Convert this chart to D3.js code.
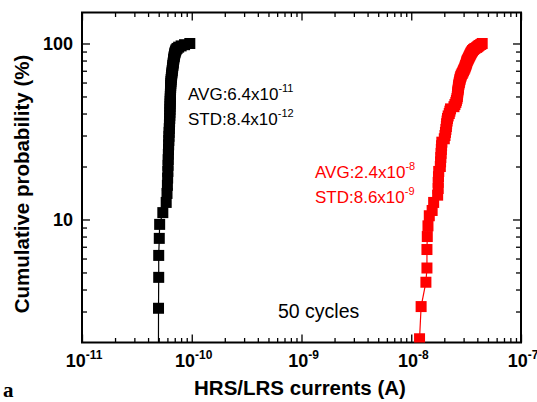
<!DOCTYPE html>
<html>
<head>
<meta charset="utf-8">
<script src="https://cdn.jsdelivr.net/npm/d3@7"></script>
<style>
  body { margin: 0; background: #fff; }
  text { font-family: "Liberation Sans", Arial, sans-serif; }
</style>
</head>
<body>
<div id="chart"></div>
<script>
// cumulative probability (%) and currents (A)
const blackProb = [1.56, 3.13, 4.69, 6.25, 7.81, 9.38, 10.94, 12.5, 14.06, 15.63, 17.19, 18.75, 20.31, 21.88, 23.44, 25,
    26.56, 28.13, 29.69, 31.25, 32.81, 34.38, 35.94, 37.5, 39.06, 40.63, 42.19, 43.75, 45.31, 46.88, 48.44, 50,
    51.56, 53.13, 54.69, 56.25, 57.81, 59.38, 60.94, 62.5, 64.06, 65.63, 67.19, 68.75, 70.31, 71.88, 73.44, 75,
    76.56, 78.13, 79.69, 81.25, 82.81, 84.38, 85.94, 87.5, 89.06, 90.63, 92.19, 93.75, 95.31, 96.88, 98.44, 100]
const blackCurrent = [4.97e-11, 4.98e-11, 5.0e-11, 5.0e-11, 5.06e-11, 5.1e-11, 5.45e-11, 5.85e-11, 5.95e-11, 6.0e-11,
    6.03e-11, 6.06e-11, 6.08e-11, 6.1e-11, 6.12e-11, 6.14e-11, 6.16e-11, 6.18e-11, 6.2e-11, 6.22e-11,
    6.24e-11, 6.26e-11, 6.28e-11, 6.3e-11, 6.31e-11, 6.32e-11, 6.33e-11, 6.34e-11, 6.35e-11, 6.36e-11,
    6.37e-11, 6.38e-11, 6.39e-11, 6.4e-11, 6.41e-11, 6.42e-11, 6.43e-11, 6.45e-11, 6.47e-11, 6.49e-11,
    6.52e-11, 6.55e-11, 6.58e-11, 6.61e-11, 6.64e-11, 6.67e-11, 6.7e-11, 6.73e-11, 6.76e-11, 6.79e-11,
    6.82e-11, 6.85e-11, 6.88e-11, 6.92e-11, 6.96e-11, 7.0e-11, 7.05e-11, 7.12e-11, 7.2e-11, 7.35e-11,
    7.6e-11, 8.0e-11, 8.6e-11, 9.6e-11]

const redProb = [2.1, 3.2, 4.4, 5.3, 6.75, 8.0, 9.2, 10.5,
    11.25, 12.5, 13.75, 15, 16.25, 17.5, 18.75, 20, 21.25, 22.5, 23.75, 25, 26.25, 27.5, 28.75, 30,
    31.25, 32.5, 33.75, 35, 36.25, 37.5, 38.75, 40, 41.25, 42.5, 43.75, 45, 46.25, 47.5, 48.75, 50,
    51.25, 52.5, 53.75, 55, 56.25, 57.5, 58.75, 60, 61.25, 62.5, 63.75, 65, 66.25, 67.5, 68.75, 70,
    71.25, 72.5, 73.75, 75, 76.25, 77.5, 78.75, 80, 81.25, 82.5, 83.75, 85, 86.25, 87.5, 88.75, 90,
    91.25, 92.5, 93.75, 95, 96.25, 97.5, 98.75, 100]
const redCurrent = [1.19e-8, 1.23e-8, 1.36e-8, 1.39e-8, 1.39e-8, 1.40e-8, 1.42e-8, 1.46e-8,
    1.55e-8, 1.6e-8, 1.74e-8, 1.76e-8, 1.76e-8, 1.77e-8, 1.78e-8, 1.84e-8,
    1.85e-8, 1.86e-8, 1.87e-8, 1.88e-8, 1.89e-8, 1.90e-8, 2.0e-8, 2.03e-8,
    2.05e-8, 2.07e-8, 2.09e-8, 2.10e-8, 2.12e-8, 2.14e-8, 2.17e-8, 2.22e-8,
    2.25e-8, 2.28e-8, 2.45e-8, 2.5e-8, 2.55e-8, 2.58e-8, 2.61e-8, 2.63e-8,
    2.64e-8, 2.65e-8, 2.66e-8, 2.68e-8, 2.69e-8, 2.70e-8, 2.72e-8, 2.74e-8,
    2.76e-8, 2.78e-8, 2.80e-8, 2.83e-8, 2.86e-8, 2.91e-8, 2.95e-8, 2.99e-8,
    3.03e-8, 3.07e-8, 3.10e-8, 3.13e-8, 3.16e-8, 3.19e-8, 3.21e-8, 3.24e-8,
    3.28e-8, 3.32e-8, 3.36e-8, 3.40e-8, 3.44e-8, 3.48e-8, 3.52e-8, 3.57e-8,
    3.62e-8, 3.70e-8, 3.80e-8, 3.95e-8, 4.05e-8, 4.15e-8, 4.30e-8, 4.43e-8]

const xMajor = [1e-11, 1e-10, 1e-9, 1e-8, 1e-7]
const xExponents = ["-11", "-10", "-9", "-8", "-7"]
const yMajor = [10, 100]
const yLabels = ["10", "100"]

const annotations = [
    {lines: [["AVG:6.4x10", "-11"], ["STD:8.4x10", "-12"]], x: 188, y: 100, color: "#000"},
    {lines: [["AVG:2.4x10", "-8"], ["STD:8.6x10", "-9"]], x: 315, y: 178, color: "#ff0000"}
]

// Create SVG
const outerWidth = 537
const outerHeight = 402
const margin = {top: 12.5, bottom: 59.5, left: 82, right: 16}
const width = outerWidth - margin.left - margin.right
const height = outerHeight - margin.top - margin.bottom

const svg = d3.select("#chart")
    .append("svg")
    .attr("width", outerWidth)
    .attr("height", outerHeight)

const x = d3.scaleLog()
    .domain([1e-11, 1e-7])
    .range([margin.left, margin.left + width])

const y = d3.scaleLog()
    .domain([2, 150])
    .range([margin.top + height, margin.top])

// minor ticks
let xMinor = []
for (const d of [-11, -10, -9, -8]) {
    for (let k = 2; k <= 9; k++) xMinor.push(k * Math.pow(10, d))
}
let yMinor = []
for (const d of [1, 10]) {
    for (let k = 2; k <= 9; k++) if (k * d > 2) yMinor.push(k * d)
}

const axes = svg.append("g")

function tickAxis(axisFn, scale, values, size, pos) {
    const g = axes.append("g")
        .attr("transform", pos)
        .call(axisFn(scale).tickValues(values).tickSizeInner(size).tickSizeOuter(0).tickFormat(""))
    g.select(".domain").remove()
    g.selectAll(".tick line").attr("stroke", "#000").attr("stroke-width", 1.3)
}

const x0 = margin.left, x1 = margin.left + width
const y0 = margin.top + height, y1 = margin.top

tickAxis(d3.axisBottom, x, xMajor, -8, `translate(0,${y0})`)
tickAxis(d3.axisBottom, x, xMinor, -4.5, `translate(0,${y0})`)
tickAxis(d3.axisTop, x, xMajor, -8, `translate(0,${y1})`)
tickAxis(d3.axisTop, x, xMinor, -4.5, `translate(0,${y1})`)
tickAxis(d3.axisLeft, y, yMajor, -8, `translate(${x0},0)`)
tickAxis(d3.axisLeft, y, yMinor, -5, `translate(${x0},0)`)
tickAxis(d3.axisRight, y, yMajor, -8, `translate(${x1},0)`)
tickAxis(d3.axisRight, y, yMinor, -5, `translate(${x1},0)`)

// frame
svg.append("rect")
    .attr("x", x0)
    .attr("y", y1)
    .attr("width", width)
    .attr("height", height)
    .attr("fill", "none")
    .attr("stroke", "#000")
    .attr("stroke-width", 2)

// tick labels
const xl = svg.append("g").selectAll("text")
    .data(xMajor)
    .enter()
    .append("text")
    .attr("x", d => x(d) + 2)
    .attr("y", y0 + 24)
    .attr("text-anchor", "middle")
    .style("font-weight", "bold")
    .style("font-size", "18px")
xl.append("tspan").text("10")
xl.append("tspan")
    .attr("dy", -8)
    .style("font-size", "12px")
    .text((d, i) => xExponents[i])

svg.append("g").selectAll("text")
    .data(yMajor)
    .enter()
    .append("text")
    .attr("x", x0 - 9)
    .attr("y", d => y(d))
    .attr("dy", "0.36em")
    .attr("text-anchor", "end")
    .style("font-weight", "bold")
    .style("font-size", "18px")
    .text((d, i) => yLabels[i])

// axis titles
svg.append("text")
    .attr("x", 300)
    .attr("y", 395)
    .attr("text-anchor", "middle")
    .style("font-weight", "bold")
    .style("font-size", "20.5px")
    .text("HRS/LRS currents (A)")

svg.append("text")
    .attr("transform", "translate(29,184) rotate(-90)")
    .attr("text-anchor", "middle")
    .style("font-weight", "bold")
    .style("font-size", "20.5px")
    .text("Cumulative probability (%)")

svg.append("text")
    .attr("x", 3)
    .attr("y", 397)
    .style("font-family", "'Liberation Serif', 'DejaVu Serif', serif")
    .style("font-weight", "bold")
    .style("font-size", "21px")
    .text("a")

// Draw data
svg.append("clipPath")
    .attr("id", "plot-clip")
    .append("rect")
    .attr("x", x0)
    .attr("y", y1)
    .attr("width", width)
    .attr("height", height)

const plot = svg.append("g").attr("clip-path", "url(#plot-clip)")

const series = [
    {prob: blackProb, current: blackCurrent, color: "#000"},
    {prob: redProb, current: redCurrent, color: "#ff0000"}
]

const line = d3.line()
    .x(d => x(d[0]))
    .y(d => y(d[1]))

const sq = 11

for (const s of series) {
    const pts = s.current.map((c, i) => [c, s.prob[i]])
    plot.append("path")
        .datum(pts)
        .attr("d", line)
        .attr("fill", "none")
        .attr("stroke", s.color)
        .attr("stroke-width", 1.2)
    plot.append("g").selectAll("rect")
        .data(pts)
        .enter()
        .append("rect")
        .attr("x", d => x(d[0]) - sq / 2)
        .attr("y", d => y(d[1]) - sq / 2)
        .attr("width", sq)
        .attr("height", sq)
        .attr("fill", s.color)
}

// annotations
for (const a of annotations) {
    a.lines.forEach((ln, i) => {
        const t = svg.append("text")
            .attr("x", a.x)
            .attr("y", a.y + i * 25)
            .attr("fill", a.color)
            .style("font-size", "17px")
        t.append("tspan").text(ln[0])
        t.append("tspan")
            .attr("dy", -8)
            .style("font-size", "11px")
            .text(ln[1])
    })
}

svg.append("text")
    .attr("x", 278)
    .attr("y", 318)
    .style("font-size", "19.5px")
    .text("50 cycles")
</script>
</body>
</html>
